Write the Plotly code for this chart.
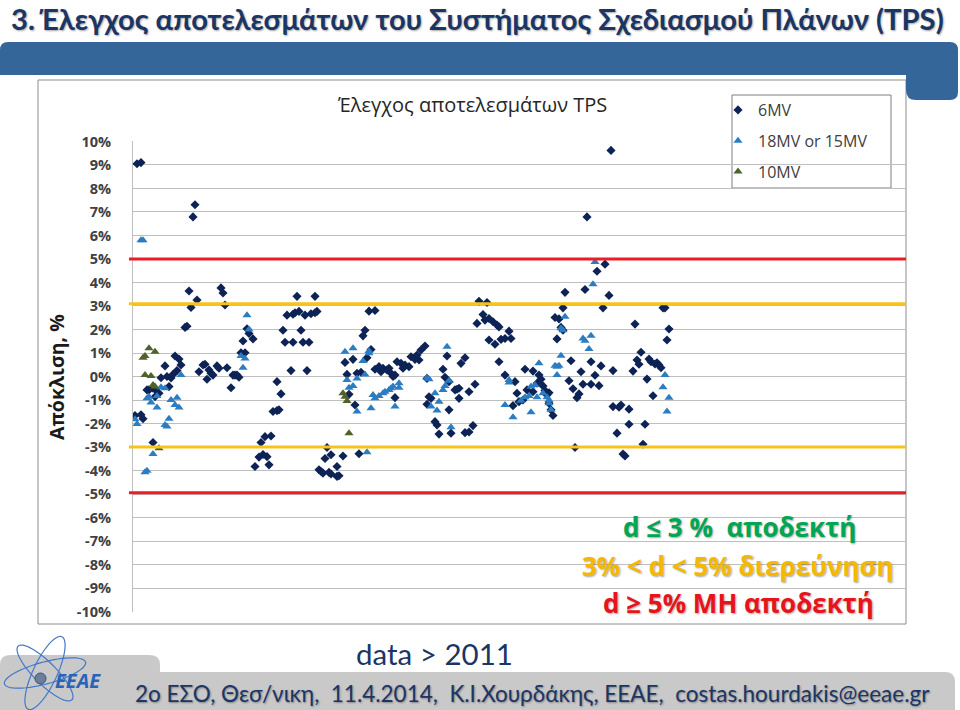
import numpy as np
import plotly.graph_objects as go

W, H = 960, 710


def px(x):
    return x / W


def py(y):
    return 1 - y / H


def path_from(points_cmds):
    out = []
    for cmd, pts in points_cmds:
        if not pts:
            out.append(cmd)
        elif cmd == "Q":
            out.append("Q " + " ".join(f"{px(a):.5f},{py(b):.5f}" for a, b in pts))
        else:
            for a, b in pts:
                out.append(f"{cmd} {px(a):.5f},{py(b):.5f}")
    return " ".join(out)


# ---------------- data ----------------
mv6_n = [2, 4, 31, 30, 28, 32, 29, 44, 45, 46, 26, 27, 57, 58, 60, 55, 54, 56, 21, 23,
         24, 16, 22, 20, 19, 17, 14, 33, 35, 36, 37, 38, 39, 40, 42, 43, 47, 49, 50, 51,
         52, 53, 18, 7, 8, 10, 11, 13, 11, 1, 4, 5, 10, 64, 66, 61, 63, 65, 67, 68,
         82, 91, 77, 80, 81, 83, 86, 89, 91, 92, 75, 84, 76, 80, 85, 88, 79, 87, 72, 74,
         70, 72, 73, 69, 93, 94, 95, 98, 99, 102, 103, 96, 99, 105, 102, 97, 113, 118, 121, 116,
         115, 119, 106, 110, 107, 112, 114, 117, 108, 111, 121, 123, 124, 125, 127, 128, 129, 130, 131, 132,
         134, 135, 136, 138, 139, 141, 142, 143, 144, 146, 131, 173, 177, 175, 176, 172, 178, 180, 182, 183,
         178, 181, 184, 186, 188, 189, 183, 186, 191, 192, 190, 196, 200, 203, 204, 206, 208, 205, 193, 195,
         197, 202, 200, 207, 209, 210, 208, 147, 147, 148, 149, 151, 152, 153, 158, 159, 157, 155, 156, 158,
         161, 162, 163, 163, 164, 166, 168, 171, 166, 168, 170, 239, 227, 236, 232, 226, 238, 216, 215, 235,
         265, 266, 211, 213, 214, 215, 212, 251, 268, 267, 254, 252, 253, 258, 259, 261, 262, 263, 264, 219,
         224, 229, 234, 240, 231, 250, 218, 220, 225, 229, 233, 223, 222, 257, 260, 240, 243, 244, 248, 242,
         248, 256, 255, 245, 246, 221]
mv6_d = [9.05, 9.1, 7.31, 6.79, 3.64, 3.25, 2.94, 3.77, 3.55, 3.04, 2.09, 2.14, 2.03, 1.83, 1.6, 1.51, 1.01, 1.01, 0.87, 0.74,
         0.49, 0.45, 0.25, 0.09, -0.06, 0.0, -0.05, 0.2, 0.49, 0.52, -0.12, 0.28, 0.14, 0.06, 0.45, 0.35, 0.37, -0.48, 0.06, 0.06,
         0.06, -0.03, -0.43, -0.57, -0.57, -0.5, -0.54, -0.71, -0.86, -1.66, -1.63, -1.8, -2.81, -2.81, -2.56, -3.83, -3.43, -3.32, -3.41, -3.76,
         3.41, 3.41, 2.61, 2.65, 2.71, 2.77, 2.61, 2.67, 2.71, 2.77, 1.97, 1.97, 1.46, 1.46, 1.46, 1.46, 0.25, 0.25, -0.22, -0.74,
         -1.49, -1.45, -1.42, -2.53, -3.97, -4.04, -4.11, -4.08, -4.15, -4.25, -4.22, -3.49, -3.33, -3.38, -3.83, -3.02, -3.29, 2.78, 2.81, 1.97,
         1.73, 1.15, 0.6, 0.73, 0.09, 0.14, 0.18, 0.8, -0.76, -1.21, 0.31, 0.42, 0.2, 0.35, 0.28, 0.35, 0.14, 0.0, 0.06, 0.63,
         0.56, 0.35, 0.49, 0.42, 0.84, 0.73, 0.91, 0.7, 1.13, 1.3, -0.9, 3.2, 3.15, 2.64, 2.4, 2.26, 2.47, 2.33, 2.19, 2.11,
         1.55, 1.37, 1.58, 1.62, 1.93, 1.62, 0.63, 0.06, -0.22, -0.71, -1.24, 0.31, 0.23, 0.06, -0.12, -0.6, -0.69, -0.4, -1.07, -1.0,
         -0.57, -0.29, -0.65, -0.79, -1.42, -1.66, -1.14, -0.08, -1.18, -0.86, -0.93, -1.92, -2.06, -2.45, -1.42, -2.41, 0.87, 0.31, -0.03, -0.22,
         -0.57, -0.54, -0.5, -0.93, 0.56, 0.8, -0.65, -0.33, -2.39, -2.36, -2.09, 9.62, 6.79, 4.78, 4.48, 3.70, 3.45, 3.58, 2.92, 2.92,
         2.92, 2.92, 2.51, 2.45, 2.09, 1.97, 1.6, 2.23, 2.02, 1.55, 1.03, 0.7, 0.52, 0.74, 0.63, 0.53, 0.58, 0.49, 0.37, 0.67,
         0.2, 0.63, 0.45, 0.25, 0.05, 0.23, -0.18, -0.52, -0.33, -0.33, -0.39, -0.74, -0.9, -0.11, -0.82, -1.28, -1.31, -1.21, -1.39, -2.41,
         -2.03, -2.03, -2.88, -3.3, -3.38, -3.02]

mv18_n = [4, 5, 57, 58, 54, 56, 55, 24, 7, 9, 8, 12, 12, 14, 16, 19, 21, 22, 23, 18,
          16, 17, 1, 2, 10, 6, 7, 106, 110, 115, 118, 118, 107, 112, 116, 108, 110, 112, 119, 120,
          121, 123, 125, 126, 128, 129, 130, 133, 133, 131, 117, 157, 147, 148, 151, 153, 155, 156, 158, 149,
          152, 159, 186, 190, 188, 188, 194, 196, 198, 199, 201, 202, 203, 205, 207, 199, 208, 231, 230, 216,
          214, 215, 225, 226, 229, 228, 214, 211, 213, 212, 266, 265, 268, 267, 208, 209, 212]
mv18_d = [5.8, 5.8, 2.61, 2.0, 0.87, 0.77, 0.37, 0.06, -0.93, -1.11, -0.86, -0.83, -1.32, -0.46, -0.5, -1.0, -1.21, -0.9, -1.32, -1.8,
          -2.06, -2.13, -1.82, -2.02, -3.3, -4.07, -4.01, 1.05, 1.2, 0.66, 0.99, 1.08, -0.15, -0.08, 0.09, -0.48, -0.4, -1.49, -1.35, -0.79,
          -0.93, -0.83, -0.71, -0.65, -0.57, -0.5, -0.43, -0.29, -0.48, -1.28, -3.22, 1.27, -0.05, -0.12, -0.71, -1.07, -0.57, -0.4, -0.18, -1.28,
          -1.45, -2.16, -1.21, -1.73, -0.26, -0.15, -1.03, -0.88, -0.83, -0.43, -0.36, -0.88, 0.56, -0.71, -0.88, -1.52, -1.0, 4.87, 3.93, 2.54,
          2.05, 1.97, 1.62, 1.52, 1.73, 1.17, 0.88, 0.46, 0.46, 0.06, 0.06, -0.46, -0.9, -1.49, -1.14, -1.42, 0.42]

mv10_n = [5, 6, 8, 11, 6, 9, 10, 11, 13, 105, 106, 107, 108]
mv10_d = [0.8, 0.87, 1.2, 1.05, 0.06, 0.02, -0.36, -0.43, -3.05, -0.71, -0.86, -1.04, -2.41]

series_names = ["6MV", "18MV or 15MV", "10MV"]
y_ticks = list(range(-10, 11))
y_tick_labels = [f"{v}%" for v in y_ticks]
limit_red = [5.0, -4.95]
limit_yellow = [3.1, -3.0]

NAVY = "#1B3565"
FONT = "Open Sans"
CAL = "Lato, Open Sans"

fig = go.Figure()
fig.add_trace(go.Scatter(x=mv6_n, y=mv6_d, mode="markers", name=series_names[0],
                         marker=dict(symbol="diamond", size=7, color="#0E2355", line=dict(width=0))))
fig.add_trace(go.Scatter(x=mv18_n, y=mv18_d, mode="markers", name=series_names[1],
                         marker=dict(symbol="triangle-up", size=8, color="#2B7CC1", line=dict(width=0))))
fig.add_trace(go.Scatter(x=mv10_n, y=mv10_d, mode="markers", name=series_names[2],
                         marker=dict(symbol="triangle-up", size=8, color="#4F6228", line=dict(width=0))))

shapes = []
# chart box
shapes.append(dict(type="rect", xref="paper", yref="paper", x0=px(38), x1=px(906), y0=py(624), y1=py(80),
                   line=dict(color="#8C8C8C", width=1), fillcolor="white", layer="below"))
# banner
banner = path_from([("M", [(0, 50)]), ("Q", [(0, 42), (8, 42)]), ("L", [(950, 42)]),
                    ("Q", [(958, 42), (958, 50)]), ("L", [(958, 92)]), ("Q", [(958, 100), (950, 100)]),
                    ("L", [(916, 100)]), ("Q", [(906, 100), (906, 90)]), ("L", [(906, 75)]),
                    ("L", [(0, 75)]), ("Z", [])])
shapes.append(dict(type="path", path=banner, xref="paper", yref="paper", fillcolor="#35669A",
                   line=dict(width=0), layer="below"))
# footer gray band
foot1 = path_from([("M", [(0, 665)]), ("Q", [(0, 655), (10, 655)]), ("L", [(150, 655)]),
                   ("Q", [(160, 655), (160, 665)]), ("L", [(160, 710)]), ("L", [(0, 710)]), ("Z", [])])
foot2 = path_from([("M", [(130, 682)]), ("Q", [(130, 672), (140, 672)]), ("L", [(945, 672)]),
                   ("Q", [(955, 672), (955, 682)]), ("L", [(955, 710)]), ("L", [(130, 710)]), ("Z", [])])
for p in (foot1, foot2):
    shapes.append(dict(type="path", path=p, xref="paper", yref="paper", fillcolor="#C9C9C9",
                       line=dict(width=0), layer="below"))
# logo orbits
t = np.linspace(0, 2 * np.pi, 60)
for ang, a, b in [(65, 40, 12), (15, 42, 11), (-45, 38, 11)]:
    r = np.deg2rad(ang)
    ex = 45 + a * np.cos(t) * np.cos(r) - b * np.sin(t) * np.sin(r)
    ey = 673 - (a * np.cos(t) * np.sin(r) + b * np.sin(t) * np.cos(r))
    pts = list(zip(ex, ey))
    pth = path_from([("M", [pts[0]]), ("L", pts[1:]), ("Z", [])])
    shapes.append(dict(type="path", path=pth, xref="paper", yref="paper",
                       line=dict(color="#4678C8", width=1.2), layer="above"))
shapes.append(dict(type="circle", xref="paper", yref="paper", x0=px(35), x1=px(46), y0=py(684), y1=py(673),
                   fillcolor="#6E7E99", line=dict(color="#2E4F8C", width=1)))
# limit lines
for v in limit_red:
    shapes.append(dict(type="line", xref="paper", yref="y", x0=px(129), x1=px(906), y0=v, y1=v,
                       line=dict(color="#EE1C25", width=3)))
for v in limit_yellow:
    shapes.append(dict(type="line", xref="paper", yref="y", x0=px(129), x1=px(906), y0=v, y1=v,
                       line=dict(color="#F7C31A", width=3)))
# legend border
shapes.append(dict(type="rect", xref="paper", yref="paper", x0=px(732), x1=px(891), y0=py(188), y1=py(95),
                   line=dict(color="#7F7F7F", width=1), fillcolor="white", layer="below"))

ann = []
shadow = "1px 1px 2px rgba(0,0,0,0.35)"


def add_text(text, x, y, font, **kw):
    ann.append(dict(text=text, x=px(x), y=py(y), xref="paper", yref="paper", showarrow=False,
                    xanchor="center", yanchor="middle", font=font, **kw))


add_text("3. Έλεγχος αποτελεσμάτων του Συστήματος Σχεδιασμού Πλάνων (TPS)", 477, 19,
         dict(family=CAL, size=29.2, color=NAVY, weight="bold", shadow=shadow))
add_text("Έλεγχος αποτελεσμάτων TPS", 472, 104, dict(family=FONT, size=20, color="#262626"))
add_text("Απόκλιση, %", 57, 377, dict(family=FONT, size=19.5, color="#1A1A1A", weight="bold"), textangle=-90)
add_text("d ≤ 3 %  αποδεκτή", 739, 527, dict(family=FONT, size=26, color="#00A651", weight="bold", shadow=shadow))
add_text("3% < d < 5% διερεύνηση", 738, 566, dict(family=FONT, size=26, color="#F5B800", weight="bold", shadow=shadow))
add_text("d ≥ 5% ΜΗ αποδεκτή", 738, 603, dict(family=FONT, size=26, color="#E8141B", weight="bold", shadow=shadow))
add_text("data > 2011", 434, 653, dict(family=CAL, size=29.5, color=NAVY))
add_text("2o ΕΣΟ, Θεσ/νικη,  11.4.2014,  Κ.Ι.Χουρδάκης, ΕΕΑΕ,  costas.hourdakis@eeae.gr", 532, 693,
         dict(family=CAL, size=22.5, color=NAVY, shadow=shadow))
add_text("<i>ΕΕΑΕ</i>", 78, 680, dict(family=FONT, size=20, color="#2C63B8", weight="bold"))

fig.update_layout(
    width=W, height=H, margin=dict(l=0, r=0, t=0, b=0, pad=0, autoexpand=False),
    paper_bgcolor="white", plot_bgcolor="rgba(0,0,0,0)",
    shapes=shapes, annotations=ann,
    xaxis=dict(domain=[px(133), px(906)], range=[0, 386.5], showgrid=False, zeroline=False,
               showticklabels=False, showline=False, ticks="", automargin=False),
    yaxis=dict(domain=[py(612), py(141)], range=[-10.02, 10.02], tickvals=y_ticks, ticktext=y_tick_labels,
               showgrid=True, gridcolor="#BFBFBF", gridwidth=1, zeroline=False,
               showline=True, linecolor="#BFBFBF", linewidth=1, automargin=False,
               ticks="outside", ticklen=18, tickcolor="rgba(0,0,0,0)",
               tickfont=dict(family=FONT, size=14.5, color="#404040", weight="bold")),
    legend=dict(x=px(718), y=py(93), xanchor="left", yanchor="top", bgcolor="rgba(0,0,0,0)",
                borderwidth=0, font=dict(family=FONT, size=16, color="#404040"),
                tracegroupgap=7),
)
for i, tr in enumerate(fig.data):
    tr.legendgroup = f"g{i}"

fig.write_html("out.html", config={"displayModeBar": False},
               post_script="document.body.style.margin='0';document.body.style.overflow='hidden';")
